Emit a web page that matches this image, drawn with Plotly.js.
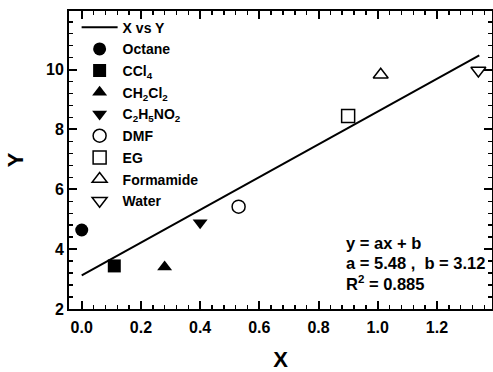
<!DOCTYPE html>
<html>
<head>
<meta charset="utf-8">
<script src="https://cdn.plot.ly/plotly-3.0.1.min.js"></script>
<style>
  html, body { margin: 0; padding: 0; background: #fff; }
  #chart { width: 493px; height: 372px; }
</style>
</head>
<body>
<div id="chart"></div>
<script>
// Solvents and their measured X / Y values
const solvents = ["Octane", "CCl<sub>4</sub>", "CH<sub>2</sub>Cl<sub>2</sub>", "C<sub>2</sub>H<sub>5</sub>NO<sub>2</sub>", "DMF", "EG", "Formamide", "Water"];
const xValues = [0.00, 0.11, 0.28, 0.40, 0.53, 0.90, 1.01, 1.34];
const yValues = [4.64, 3.44, 3.40, 4.88, 5.42, 8.45, 9.83, 9.97];
const symbols = ["circle", "square", "triangle-up", "triangle-down", "circle-open", "square-open", "triangle-up-open", "triangle-down-open"];

// Axis tick positions and labels
const xTicks = [0, 0.2, 0.4, 0.6, 0.8, 1.0, 1.2];
const xTickLabels = ["0.0", "0.2", "0.4", "0.6", "0.8", "1.0", "1.2"];
const yTicks = [2, 4, 6, 8, 10];
const yTickLabels = ["2", "4", "6", "8", "10"];

// Linear fit y = a*x + b
const slopeA = 5.48;
const interceptB = 3.12;
const rSquared = 0.885;
const fitX = [0, 1.343];

const FONT = "Arial, 'Liberation Sans', sans-serif";
const NBSP = "\u00A0";
const bold = s => "<b>" + s + "</b>";

const traces = [{
  x: fitX,
  y: fitX.map(v => slopeA * v + interceptB),
  mode: "lines",
  name: bold("X vs Y"),
  legendgroup: "fit",
  line: { color: "#000", width: 2 },
  hoverinfo: "skip"
}];

solvents.forEach((name, i) => {
  const open = symbols[i].endsWith("open");
  traces.push({
    x: [xValues[i]],
    y: [yValues[i]],
    mode: "markers",
    name: bold(name),
    legendgroup: "s" + i,
    marker: {
      symbol: symbols[i],
      size: 13,
      color: "#000",
      line: { color: "#000", width: open ? 1.5 : 0 }
    }
  });
});

const axisCommon = {
  showline: true,
  linewidth: 2,
  linecolor: "#000",
  mirror: "allticks",
  ticks: "inside",
  ticklen: 8,
  tickwidth: 2,
  tickcolor: "#000",
  showgrid: false,
  zeroline: false,
  tickmode: "array",
  tickfont: { family: FONT, size: 16, color: "#000" }
};

const layout = {
  width: 493,
  height: 372,
  margin: { l: 69, r: 1, t: 11, b: 63 },
  paper_bgcolor: "#fff",
  plot_bgcolor: "#fff",
  showlegend: true,
  legend: {
    x: 0.018, y: 0.998, xanchor: "left", yanchor: "top",
    bgcolor: "rgba(0,0,0,0)",
    itemwidth: 36,
    font: { family: FONT, size: 14, color: "#000" },
    tracegroupgap: 0.5
  },
  xaxis: Object.assign({}, axisCommon, {
    range: [-0.043, 1.386],
    tickvals: xTicks,
    ticktext: xTickLabels.map(bold),
    ticklabelstandoff: 3,
    minor: { tickmode: "linear", tick0: 0, dtick: 0.04, ticks: "inside", ticklen: 4, tickwidth: 1.5, tickcolor: "#000" },
    title: { text: bold("X"), font: { family: FONT, size: 22, color: "#000" }, standoff: 20 }
  }),
  yaxis: Object.assign({}, axisCommon, {
    range: [2, 11.96],
    tickvals: yTicks,
    ticktext: yTickLabels.map(bold),
    minor: { tickmode: "linear", tick0: 2, dtick: 0.4, ticks: "inside", ticklen: 4, tickwidth: 1.5, tickcolor: "#000" },
    title: { text: bold("Y"), font: { family: FONT, size: 22, color: "#000" }, standoff: 16 }
  }),
  annotations: [
    { text: "y = ax + b", y: 4.21 },
    { text: "a = " + slopeA.toFixed(2) + " ," + NBSP + NBSP + "b = " + interceptB.toFixed(2), y: 3.55 },
    { text: "R<sup>2</sup> = " + rSquared.toFixed(3), y: 2.87 }
  ].map(a => ({
    x: 0.886, y: a.y, xref: "x", yref: "y",
    xanchor: "left", yanchor: "middle", showarrow: false,
    text: bold(a.text),
    font: { family: FONT, size: 16.5, color: "#000" }
  }))
};

Plotly.newPlot("chart", traces, layout, { displayModeBar: false, staticPlot: true });
</script>
</body>
</html>
